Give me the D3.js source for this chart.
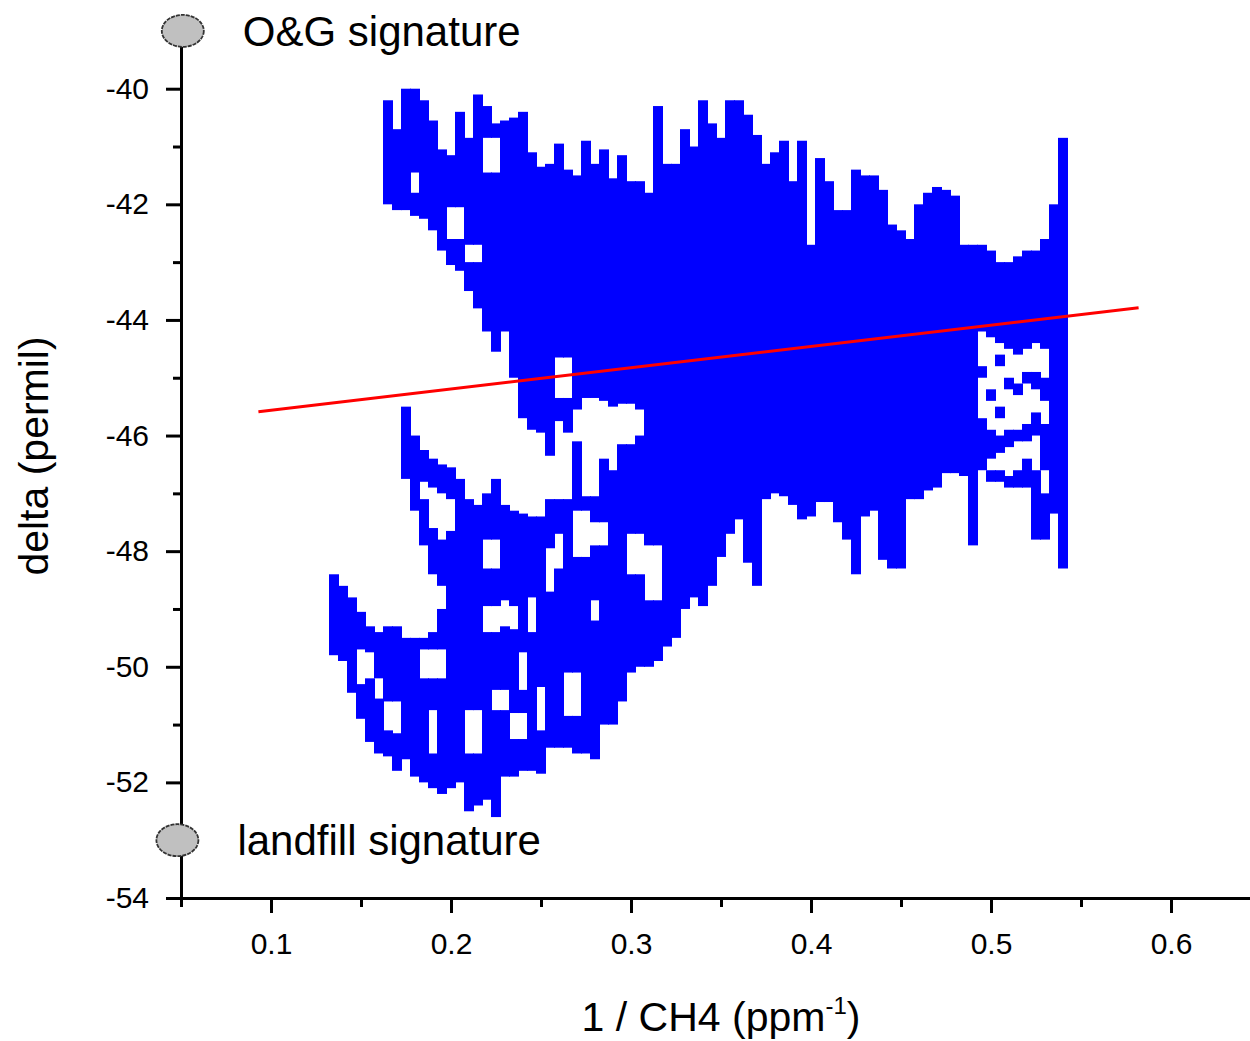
<!DOCTYPE html>
<meta charset="utf-8">
<head>
    <title>delta vs 1/CH4</title>
    <script type="text/javascript" src="https://d3js.org/d3.v7.min.js"></script>
    <style>
        body { margin: 0; background: #fff; }
        text { font-family: "Liberation Sans", Arial, sans-serif; fill: #000; }
    </style>
</head>
<body>
<div id="chart"></div>
<script>
    // tick values
    var xMajor = [0.1, 0.2, 0.3, 0.4, 0.5, 0.6];
    var xMinor = [0.05, 0.15, 0.25, 0.35, 0.45, 0.55, 0.65];
    var yMajor = [-54, -52, -50, -48, -46, -44, -42, -40];
    var yMinor = [-53, -51, -49, -47, -45, -43, -41];

    // end members
    var sigLabels = ["O&G signature", "landfill signature"];
    var sigX = [0.051, 0.048];
    var sigY = [-39.0, -53.0];

    // linear fit (red line), two end points
    var fitX = [0.093, 0.582];
    var fitY = [-45.59, -43.79];

    // measurement cloud, read column by column: [1/CH4, delta top, delta bottom]
    var upperSpans = [
        [0.165, -40.2, -42.0], [0.17, -40.7, -42.1], [0.175, -40.0, -42.1],
        [0.18, -40.0, -41.45], [0.18, -41.8, -42.2], [0.185, -40.2, -42.25],
        [0.19, -40.55, -42.45], [0.195, -41.05, -42.8],
        [0.2, -41.15, -42.05], [0.2, -42.6, -43.05],
        [0.205, -40.4, -42.05], [0.205, -42.6, -43.15],
        [0.21, -40.85, -42.7], [0.21, -43.0, -43.5],
        [0.215, -40.1, -42.7], [0.215, -43.0, -43.8],
        [0.22, -40.3, -40.85], [0.22, -41.45, -44.2],
        [0.225, -40.6, -40.85], [0.225, -41.45, -44.55],
        [0.23, -40.55, -44.2], [0.235, -40.5, -45.0], [0.24, -40.4, -45.7],
        [0.245, -41.1, -45.9], [0.25, -41.35, -45.95], [0.255, -41.3, -46.35],
        [0.26, -40.95, -44.65], [0.26, -45.35, -45.75],
        [0.265, -41.4, -44.65], [0.265, -45.35, -45.95],
        [0.27, -41.5, -45.55], [0.275, -40.9, -45.35], [0.28, -41.3, -45.35],
        [0.285, -41.05, -45.4], [0.29, -41.55, -45.5], [0.295, -41.15, -45.45],
        [0.3, -41.6, -45.45], [0.305, -41.6, -45.55]
    ];

    var lowerSpans = [
        [0.135, -48.4, -49.8], [0.14, -48.6, -49.9], [0.145, -48.8, -50.45],
        [0.15, -49.05, -49.7], [0.15, -50.3, -50.9],
        [0.155, -49.3, -49.75], [0.155, -50.2, -51.3],
        [0.16, -49.4, -50.2], [0.16, -50.55, -51.5],
        [0.165, -49.3, -50.6], [0.165, -51.1, -51.55],
        [0.17, -49.3, -50.6], [0.17, -51.15, -51.8],
        [0.175, -45.5, -46.75], [0.175, -49.5, -51.6],
        [0.18, -46.0, -47.3], [0.18, -49.5, -51.9],
        [0.185, -46.25, -46.8], [0.185, -47.1, -47.9], [0.185, -49.5, -49.7], [0.185, -50.2, -52.0],
        [0.19, -46.4, -46.9], [0.19, -47.6, -48.4], [0.19, -49.4, -49.7], [0.19, -50.2, -50.75], [0.19, -51.5, -52.1],
        [0.195, -46.5, -47.0], [0.195, -47.8, -48.6], [0.195, -49.0, -49.7], [0.195, -50.2, -52.2],
        [0.2, -46.55, -47.1], [0.2, -47.65, -52.1],
        [0.205, -46.75, -52.0],
        [0.21, -47.1, -50.75], [0.21, -51.5, -52.5],
        [0.215, -47.2, -50.75], [0.215, -51.5, -52.4],
        [0.22, -47.0, -47.8], [0.22, -48.3, -48.95], [0.22, -49.4, -52.3],
        [0.225, -46.75, -47.8], [0.225, -48.3, -48.95], [0.225, -49.4, -50.4], [0.225, -50.75, -52.6],
        [0.23, -47.2, -48.85], [0.23, -49.3, -50.4], [0.23, -50.75, -51.9],
        [0.235, -47.3, -48.95], [0.235, -49.35, -50.8], [0.235, -51.25, -51.9],
        [0.24, -47.35, -49.75], [0.24, -50.4, -50.8], [0.24, -51.25, -51.8],
        [0.245, -47.4, -48.8], [0.245, -49.4, -51.8],
        [0.25, -47.4, -50.35], [0.25, -51.1, -51.85],
        [0.255, -47.1, -47.95], [0.255, -48.7, -51.4],
        [0.26, -47.1, -47.7], [0.26, -48.3, -51.4],
        [0.265, -47.1, -50.1], [0.265, -50.85, -51.4],
        [0.27, -46.1, -47.3], [0.27, -48.1, -50.1], [0.27, -50.85, -51.5],
        [0.275, -47.05, -47.3], [0.275, -48.1, -51.5],
        [0.28, -47.05, -47.5], [0.28, -47.9, -48.85], [0.28, -49.2, -51.6],
        [0.285, -46.4, -47.5], [0.285, -47.9, -51.0],
        [0.29, -46.6, -51.0], [0.295, -46.15, -50.6],
        [0.3, -46.15, -47.7], [0.3, -48.4, -50.1],
        [0.305, -46.0, -47.7], [0.305, -48.4, -50.0]
    ];

    var mainSpans = [
        [0.31, -41.8, -47.9], [0.31, -48.85, -50.0],
        [0.315, -40.3, -47.9], [0.315, -48.85, -49.9],
        [0.32, -41.3, -49.65],
        [0.325, -41.3, -49.5], [0.33, -40.7, -49.0], [0.335, -41.0, -48.8],
        [0.34, -40.2, -48.95], [0.345, -40.6, -48.6], [0.35, -40.85, -48.1],
        [0.355, -40.2, -47.7], [0.36, -40.2, -47.45], [0.365, -40.45, -48.2],
        [0.37, -40.8, -48.6], [0.375, -41.3, -47.1], [0.38, -41.1, -47.0],
        [0.385, -40.9, -47.05], [0.39, -41.6, -47.2], [0.395, -40.9, -47.45],
        [0.4, -42.7, -47.4], [0.405, -41.2, -47.15], [0.41, -41.6, -47.15],
        [0.415, -42.1, -47.5], [0.42, -42.1, -47.8], [0.425, -41.4, -48.4],
        [0.43, -41.5, -47.4], [0.435, -41.5, -47.3], [0.44, -41.75, -48.15],
        [0.445, -42.35, -48.3], [0.45, -42.45, -48.3], [0.455, -42.6, -47.1],
        [0.46, -42.0, -47.1], [0.465, -41.8, -46.95], [0.47, -41.7, -46.9],
        [0.475, -41.75, -46.65], [0.48, -41.85, -46.65], [0.485, -42.7, -46.7],
        [0.49, -42.7, -47.9], [0.535, -42.0, -47.35], [0.54, -40.85, -48.3]
    ];

    var sparseSpans = [
        [0.495, -42.7, -44.2], [0.495, -44.8, -45.0], [0.495, -45.7, -46.6],
        [0.5, -42.8, -44.3], [0.5, -45.2, -45.4], [0.5, -45.9, -46.4], [0.5, -46.6, -46.8],
        [0.505, -43.0, -44.4], [0.505, -44.6, -44.8], [0.505, -45.5, -45.7], [0.505, -46.0, -46.3], [0.505, -46.6, -46.8],
        [0.51, -43.0, -44.5], [0.51, -45.0, -45.2], [0.51, -45.9, -46.2], [0.51, -46.7, -46.9],
        [0.515, -42.9, -44.6], [0.515, -45.1, -45.3], [0.515, -45.9, -46.1], [0.515, -46.6, -46.9],
        [0.52, -42.8, -44.5], [0.52, -44.9, -45.1], [0.52, -45.8, -46.1], [0.52, -46.4, -46.9],
        [0.525, -42.8, -44.4], [0.525, -44.9, -45.2], [0.525, -45.6, -46.0], [0.525, -46.6, -47.8],
        [0.53, -42.6, -44.5], [0.53, -45.0, -45.4], [0.53, -45.8, -46.6], [0.53, -47.0, -47.8]
    ];

    var colWidth = 0.005;

    var width = 1250;
    var height = 1041;

    var svg = d3.select("#chart").append("svg")
                .attr("width", width)
                .attr("height", height);

    var x = d3.scaleLinear().domain([0.05, 0.65]).range([181, 1261]);
    var y = d3.scaleLinear().domain([-54, -39]).range([898, 30.9]);

    // blue cloud
    var spans = upperSpans.concat(lowerSpans, mainSpans, sparseSpans);
    svg.append("g")
       .attr("class", "cloud")
       .selectAll("rect")
       .data(spans)
       .enter().append("rect")
       .attr("x", function(d) { return x(d[0] - colWidth / 2) - 0.5; })
       .attr("y", function(d) { return y(d[1]); })
       .attr("width", function(d) { return x(d[0] + colWidth / 2) - x(d[0] - colWidth / 2) + 1; })
       .attr("height", function(d) { return y(d[2]) - y(d[1]); })
       .attr("fill", "#0000ff");

    // fit line
    svg.append("line")
       .attr("x1", x(fitX[0])).attr("y1", y(fitY[0]))
       .attr("x2", x(fitX[1])).attr("y2", y(fitY[1]))
       .attr("stroke", "#ff0000")
       .attr("stroke-width", 3);

    // x axis: major + minor ticks
    var xAxis = svg.append("g")
                   .attr("class", "axis")
                   .attr("transform", "translate(0," + y(-54) + ")")
                   .call(d3.axisBottom(x).tickValues(xMajor).tickSize(15).tickSizeOuter(0).tickPadding(20)
                           .tickFormat(d3.format(".1f")));
    svg.append("g")
       .attr("class", "axis")
       .attr("transform", "translate(0," + y(-54) + ")")
       .call(d3.axisBottom(x).tickValues(xMinor).tickSize(9).tickSizeOuter(0).tickFormat(""))
       .select(".domain").remove();

    // y axis
    var yAxis = svg.append("g")
                   .attr("class", "axis")
                   .attr("transform", "translate(" + x(0.05) + ",0)")
                   .call(d3.axisLeft(y).tickValues(yMajor).tickSize(15).tickSizeOuter(0).tickPadding(17)
                           .tickFormat(d3.format("d")));
    svg.append("g")
       .attr("class", "axis")
       .attr("transform", "translate(" + x(0.05) + ",0)")
       .call(d3.axisLeft(y).tickValues(yMinor).tickSize(8).tickSizeOuter(0).tickFormat(""))
       .select(".domain").remove();

    svg.selectAll(".axis path, .axis line")
       .attr("stroke", "#000")
       .attr("stroke-width", 3);
    svg.selectAll(".axis text")
       .attr("font-size", "30px")
       .attr("font-family", "Liberation Sans, Arial, sans-serif")
       .attr("fill", "#000");
    yAxis.selectAll("text").text(function(d) { return String(d).replace("\u2212", "-"); });

    // end member markers
    var sig = svg.append("g").attr("class", "signatures");
    sig.selectAll("ellipse")
       .data(sigLabels)
       .enter().append("ellipse")
       .attr("cx", function(d, i) { return x(sigX[i]); })
       .attr("cy", function(d, i) { return y(sigY[i]); })
       .attr("rx", 21)
       .attr("ry", 16)
       .attr("fill", "#c0c0c0")
       .attr("stroke", "#333")
       .attr("stroke-width", 1.8)
       .attr("stroke-dasharray", "4 1");
    sig.selectAll("text")
       .data(sigLabels)
       .enter().append("text")
       .attr("x", function(d, i) { return x(sigX[i]) + 60; })
       .attr("y", function(d, i) { return y(sigY[i]) + 15; })
       .attr("font-size", "42px")
       .text(function(d) { return d; });

    // axis titles
    var xTitle = svg.append("text")
                    .attr("x", 721)
                    .attr("y", 1031)
                    .attr("text-anchor", "middle")
                    .attr("font-size", "41px");
    xTitle.append("tspan").text("1 / CH4 (ppm");
    xTitle.append("tspan").attr("dy", -17).attr("font-size", "24px").text("-1");
    xTitle.append("tspan").attr("dy", 17).text(")");

    svg.append("text")
       .attr("transform", "translate(48,456) rotate(-90)")
       .attr("text-anchor", "middle")
       .attr("font-size", "41px")
       .text("delta (permil)");
</script>
</body>
</html>
